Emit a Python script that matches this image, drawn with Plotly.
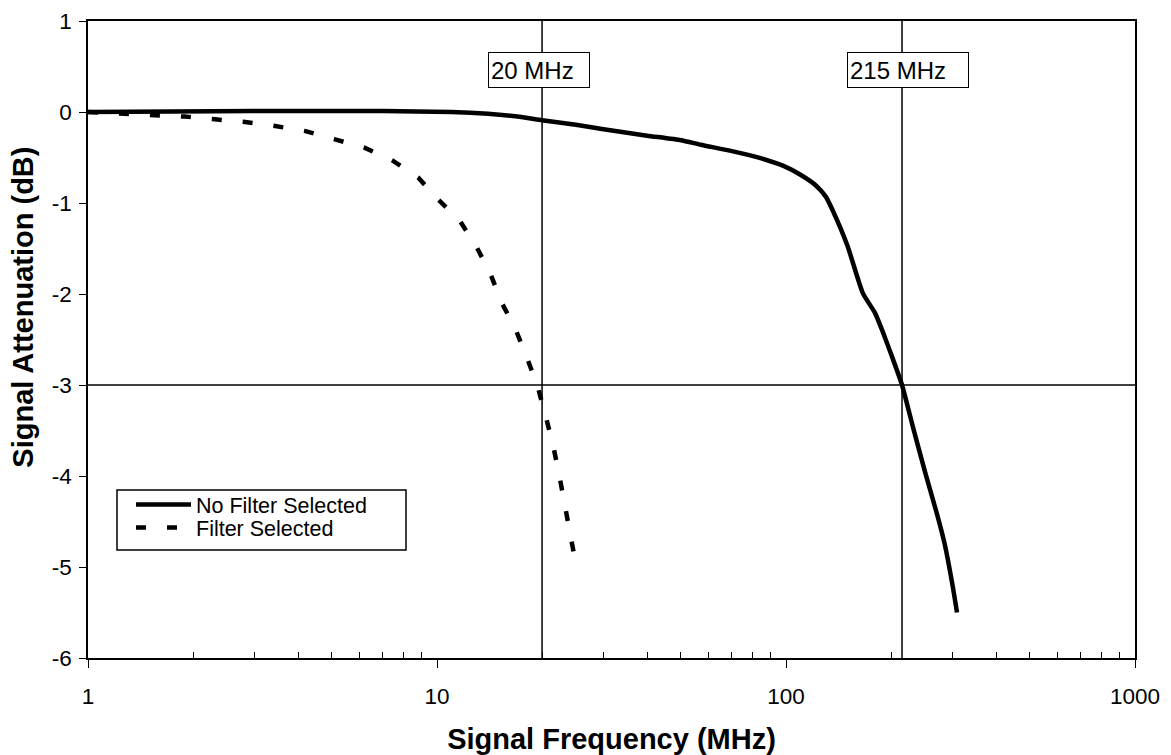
import math
import plotly.graph_objects as go

# ---- data ----
nf_freq = [1, 3, 7, 11, 14, 17, 20, 25, 30, 40, 50, 57, 70, 85, 98, 110, 122, 130,
           136, 150, 166, 180, 190, 200, 215, 231, 250, 270, 285, 300, 309]
nf_db = [0, 0.01, 0.01, 0, -0.02, -0.05, -0.09, -0.14, -0.19, -0.26, -0.31, -0.36,
         -0.43, -0.51, -0.59, -0.69, -0.81, -0.93, -1.08, -1.47, -1.99, -2.21, -2.43,
         -2.66, -3.0, -3.46, -3.95, -4.4, -4.75, -5.2, -5.5]

f_freq = [1, 1.26, 1.54, 1.89, 2.31, 2.82, 3.44, 4.2, 5.1, 6.17, 7.43, 8.83, 10.07,
          11.6, 12.97, 14.2, 15.3, 16.8, 18.1, 19.4, 20.45, 21.5, 22.4, 23.3, 24.2, 25.0]
f_db = [0, -0.02, -0.03, -0.05, -0.08, -0.11, -0.154, -0.21, -0.30, -0.39, -0.53,
        -0.72, -0.96, -1.19, -1.48, -1.77, -2.09, -2.39, -2.70, -3.01, -3.33, -3.66,
        -3.99, -4.32, -4.65, -4.97]

series_names = ["No Filter Selected", "Filter Selected"]
ref_freqs = [20, 215]
ref_labels = ["20 MHz", "215 MHz"]
ref_db = -3

x_major = [1, 10, 100, 1000]
x_major_labels = ["1", "10", "100", "1000"]
x_minor = [m * 10 ** k for k in range(3) for m in range(2, 10)]
y_ticks = [1, 0, -1, -2, -3, -4, -5, -6]
y_tick_labels = ["1", "0", "-1", "-2", "-3", "-4", "-5", "-6"]

x_title = "Signal Frequency (MHz)"
y_title = "Signal Attenuation (dB)"

FONT = "Arial, Liberation Sans, sans-serif"

fig = go.Figure()
fig.add_trace(go.Scatter(x=nf_freq, y=nf_db, mode="lines", name=series_names[0],
                         legend="legend",
                         line=dict(color="black", width=4.5, shape="spline", smoothing=0.5)))
fig.add_trace(go.Scatter(x=f_freq, y=f_db, mode="lines", name=series_names[1],
                         legend="legend2",
                         line=dict(color="black", width=4.5, dash="10px,21px")))

for xv in ref_freqs:
    fig.add_vline(x=xv, line=dict(color="black", width=1.5), layer="below")
fig.add_hline(y=ref_db, line=dict(color="black", width=1.5), layer="below")

shifts = [-3.5, 5.5]
widths = [96, 116]
for xv, lab, sh, w in zip(ref_freqs, ref_labels, shifts, widths):
    fig.add_annotation(x=math.log10(xv), xref="x", y=0.46, yref="y", text=lab,
                       showarrow=False, xshift=sh, width=w, height=30, align="left",
                       valign="middle", bgcolor="white", bordercolor="black",
                       borderwidth=1, borderpad=2,
                       font=dict(family=FONT, size=24, color="black"))

# y-axis title (rotated text, slightly above centre like the original)
fig.add_annotation(x=0, xref="paper", xshift=-65, y=-2.15, yref="y",
                   text="<b>%s</b>" % y_title, textangle=-90, showarrow=False,
                   xanchor="center", yanchor="middle",
                   font=dict(family=FONT, size=29, color="black"))

# legend frame
fig.add_shape(type="rect", xref="paper", yref="paper",
              x0=29 / 1047, x1=318 / 1047, y0=108 / 637, y1=168 / 637,
              line=dict(color="black", width=1.5), fillcolor="white", layer="above")

leg_common = dict(xanchor="left", yanchor="top", bgcolor="rgba(0,0,0,0)",
                  borderwidth=0, font=dict(family=FONT, size=21.5, color="black"),
                  indentation=14, itemwidth=55)

fig.update_layout(
    width=1163, height=747,
    margin=dict(l=80, r=36, t=13, b=97, autoexpand=False),
    paper_bgcolor="white", plot_bgcolor="white",
    font=dict(family=FONT, color="black"),
    showlegend=True,
    legend=dict(x=0.0277, y=0.2732, **leg_common),
    legend2=dict(x=0.0277, y=0.2370, **leg_common),
    xaxis=dict(type="log", range=[0, 3], tickmode="array", tickvals=x_major,
               ticktext=x_major_labels, ticks="outside", ticklen=8, tickwidth=1.2,
               tickcolor="black", showline=True, linecolor="black", linewidth=1.5,
               mirror=True, showgrid=False, zeroline=False, ticklabelstandoff=9,
               automargin=False,
               tickfont=dict(family=FONT, size=22.5, color="black"),
               minor=dict(tickmode="array", tickvals=x_minor, ticks="inside", ticklen=6,
                          tickwidth=1.2, tickcolor="black", showgrid=False),
               title=dict(text="<b>%s</b>" % x_title, standoff=26,
                          font=dict(family=FONT, size=29, color="black"))),
    xaxis2=dict(type="log", range=[0, 3], overlaying="x", anchor="y", side="bottom",
                tickmode="array", tickvals=x_major, ticks="inside", ticklen=8,
                tickwidth=1.2, tickcolor="black", showticklabels=False,
                showline=False, showgrid=False, zeroline=False),
    yaxis=dict(range=[-6, 1], tickmode="array", tickvals=y_ticks,
               ticktext=y_tick_labels, ticks="outside",
               ticklen=7, tickwidth=1.2, tickcolor="black", showline=True,
               linecolor="black", linewidth=1.5, mirror=True, showgrid=False,
               zeroline=False, ticklabelstandoff=3, automargin=False,
               tickfont=dict(family=FONT, size=22.5, color="black")),
)

fig.write_html("out.html")
